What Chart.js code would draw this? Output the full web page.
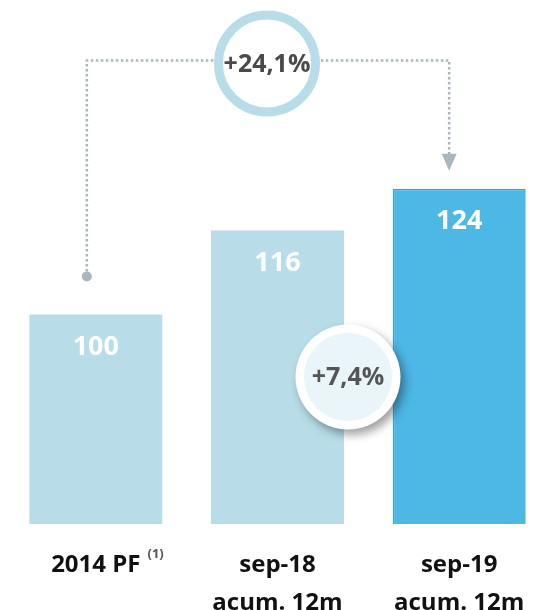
<!DOCTYPE html>
<html>
<head>
<meta charset="utf-8">
<script src="https://cdn.jsdelivr.net/npm/chart.js@4.4.0/dist/chart.umd.min.js"></script>
<style>
  html, body { margin: 0; padding: 0; background: #fff; overflow: hidden; }
  #wrap { width: 545px; height: 610px; overflow: hidden; }
</style>
</head>
<body>
<div id="wrap"><canvas id="canvas" width="555" height="610"></canvas></div>
<script>
// data
const labels = ['2014 PF', ['sep-18', 'acum. 12m'], ['sep-19', 'acum. 12m']]
const values = [100, 116, 124]
const growthTotal = '+24,1%'
const growthYear = '+7,4%'
const footnote = '(1)'

const barColors = ['#b8dde8', '#b8dde8', '#4db7e5']
const borderColors = ['#b8dde8', '#b8dde8', '#2ea6dd']

/* labels inside bars + arrows and circles */
const extras = {
  id: 'extras',
  afterDatasetsDraw(chart) {
    const ctx = chart.ctx
    const x = chart.scales.x
    const y = chart.scales.y
    const bars = chart.getDatasetMeta(0).data

    // values in bars
    ctx.save()
    ctx.fillStyle = '#ffffff'
    ctx.font = 'bold 27px "Open Sans"'
    ctx.textAlign = 'center'
    ctx.textBaseline = 'middle'
    bars.forEach(function (b, i) {
      ctx.fillText(String(values[i]), b.x, b.y + 33)
    })
    ctx.restore()

    // dotted connector 2014 -> sep-19
    const lx = bars[0].x - 9
    const rx = bars[2].x - 10
    const topY = y.getPixelForValue(values[0]) - 254
    const dotY = y.getPixelForValue(values[0]) - 38
    const arrowTip = y.getPixelForValue(values[2]) - 18
    ctx.save()
    ctx.strokeStyle = '#aab6be'
    ctx.lineWidth = 2.5
    ctx.setLineDash([2.5, 2.5])
    ctx.beginPath()
    ctx.moveTo(lx, dotY)
    ctx.lineTo(lx, topY)
    ctx.lineTo(rx, topY)
    ctx.lineTo(rx, arrowTip - 16)
    ctx.stroke()
    ctx.setLineDash([])
    ctx.fillStyle = '#aab6be'
    ctx.beginPath()
    ctx.arc(lx, dotY, 5, 0, Math.PI * 2)
    ctx.fill()
    ctx.beginPath()
    ctx.moveTo(rx - 7.5, arrowTip - 17)
    ctx.lineTo(rx + 7.5, arrowTip - 17)
    ctx.lineTo(rx, arrowTip)
    ctx.closePath()
    ctx.fill()

    // ring with total growth
    const cx = bars[1].x - 10.5
    const cy = topY + 3
    ctx.beginPath()
    ctx.arc(cx, cy, 48.5, 0, Math.PI * 2)
    ctx.fillStyle = '#ffffff'
    ctx.fill()
    ctx.lineWidth = 9
    ctx.strokeStyle = '#b8dde8'
    ctx.stroke()
    ctx.fillStyle = '#4a4a4a'
    ctx.font = 'bold 25px "Open Sans"'
    ctx.textAlign = 'center'
    ctx.textBaseline = 'middle'
    ctx.fillText(growthTotal, cx, cy + 1)
    ctx.restore()

    // bubble with yearly growth
    const bx = bars[1].x + bars[1].width / 2 + 4
    const by = y.getPixelForValue(y.min) - 147
    ctx.save()
    ctx.shadowColor = 'rgba(0,0,0,0.38)'
    ctx.shadowBlur = 10
    ctx.shadowOffsetX = 4
    ctx.shadowOffsetY = 5
    ctx.fillStyle = '#ffffff'
    ctx.beginPath()
    ctx.arc(bx, by, 52.5, 0, Math.PI * 2)
    ctx.fill()
    ctx.restore()
    ctx.save()
    ctx.fillStyle = '#e9f5f8'
    ctx.beginPath()
    ctx.arc(bx, by, 44, 0, Math.PI * 2)
    ctx.fill()
    ctx.fillStyle = '#555555'
    ctx.font = 'bold 25px "Open Sans"'
    ctx.textAlign = 'center'
    ctx.textBaseline = 'middle'
    ctx.fillText(growthYear, bx, by + 1)
    ctx.restore()
  },
  afterDraw(chart) {
    // footnote mark next to first label
    const ctx = chart.ctx
    const x = chart.scales.x
    ctx.save()
    ctx.font = 'bold 24px "Open Sans"'
    const w = ctx.measureText(labels[0]).width
    ctx.font = 'bold 13px "Open Sans"'
    ctx.fillStyle = '#555555'
    ctx.textAlign = 'left'
    ctx.textBaseline = 'middle'
    ctx.fillText(footnote, x.getPixelForTick(0) + w / 2 + 7, 554)
    ctx.restore()
  }
}

const data = {
  labels: labels,
  datasets: [
    {
      data: values,
      backgroundColor: barColors,
      borderColor: borderColors,
      borderWidth: [0, 0, 1.5],
      borderSkipped: false,
      barPercentage: 0.732,
      categoryPercentage: 1,
    },
  ],
}

const config = {
  type: 'bar',
  data: data,
  options: {
    responsive: false,
    animation: false,
    layout: { padding: { left: 5, right: 5, top: 0, bottom: 0 } },
    plugins: { legend: { display: false }, tooltip: { enabled: false } },
    scales: {
      y: { display: false, min: 60, max: 160 },
      x: {
        grid: { display: false, drawTicks: false },
        border: { display: false },
        ticks: {
          color: '#111111',
          padding: 22,
          font: { family: 'Open Sans', weight: 'bold', size: 24, lineHeight: 1.6 },
          maxRotation: 0,
          autoSkip: false,
        },
        afterFit: function (scale) { scale.height = 86 },
      },
    },
  },
  plugins: [extras],
}

const canvas = document.getElementById('canvas')
const chart = new Chart(canvas, config)
</script>
</body>
</html>
